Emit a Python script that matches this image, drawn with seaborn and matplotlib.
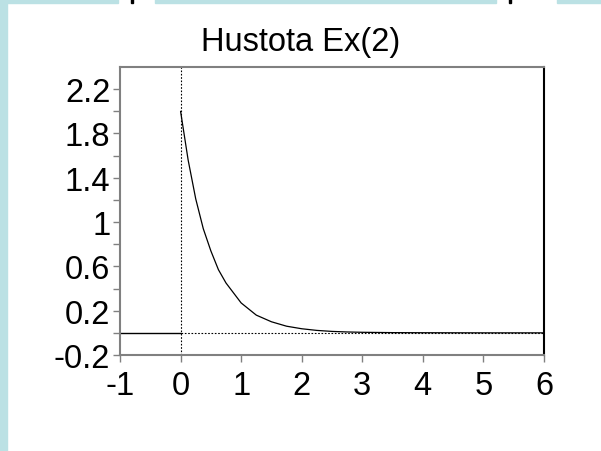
import numpy as np
import pandas as pd
import matplotlib
matplotlib.use("Agg")
import matplotlib.pyplot as plt
from matplotlib.patches import Rectangle
import seaborn as sns

# Data: density of Ex(2)
dens_x = [0, 0.125, 0.25, 0.375, 0.5, 0.625, 0.75, 1.0, 1.25, 1.5, 1.75,
          2.0, 2.25, 2.5, 2.75, 3.0, 3.5, 4.0, 5.0, 6.0]
dens_y = [2.0, 1.56, 1.21, 0.94, 0.74, 0.57, 0.45, 0.27, 0.16, 0.10, 0.06,
          0.037, 0.022, 0.013, 0.008, 0.005, 0.002, 0.001, 0.0, 0.0]
zero_x = [-1, 0]
zero_y = [0, 0]

x_ticks = [-1, 0, 1, 2, 3, 4, 5, 6]
y_ticks = [-0.2, 0.0, 0.2, 0.4, 0.6, 0.8, 1.0, 1.2, 1.4, 1.6, 1.8, 2.0, 2.2]
y_labels = ["-0.2", "", "0.2", "", "0.6", "", "1", "", "1.4", "", "1.8", "", "2.2"]

TITLE = "Hustota Ex(2)"
BLUE = "#bbe1e4"

sns.set_style("white")
plt.rcParams['font.family'] = ['Liberation Sans', 'DejaVu Sans']

fig = plt.figure(figsize=(6.01, 4.52), dpi=100)
ax = fig.add_axes([120 / 601, 1 - 356 / 452, 424 / 601, 288 / 452])

# light blue frame pieces around the slide
fig.patches.append(Rectangle((0, 0), 7 / 601, 1, transform=fig.transFigure,
                             color=BLUE, zorder=0))
for x0, x1 in [(0, 118), (155, 496), (557, 601)]:
    fig.patches.append(Rectangle((x0 / 601, 1 - 4 / 452), (x1 - x0) / 601, 4 / 452,
                                 transform=fig.transFigure, color=BLUE, zorder=0))
for xm in [131, 509]:
    fig.patches.append(Rectangle((xm / 601, 1 - 4 / 452), 2 / 601, 4 / 452,
                                 transform=fig.transFigure, color="black", zorder=1))

df = pd.DataFrame({"x": dens_x, "y": dens_y})
sns.lineplot(data=df, x="x", y="y", ax=ax, color="black", linewidth=0.9)
ax.plot(zero_x, zero_y, color="black", linewidth=1.0)
ax.axhline(0, xmin=1 / 7, xmax=1, color="black", linestyle=(0, (1.5, 1.5)), linewidth=0.8)
ax.axvline(0, color="black", linestyle=(0, (1.5, 1.5)), linewidth=0.8)

ax.set_xlim(-1, 6)
ax.set_ylim(-0.2, 2.4)
ax.set_xticks(x_ticks)
ax.set_xticklabels([str(v) for v in x_ticks])
ax.set_yticks(y_ticks)
ax.set_yticklabels(y_labels)
ax.set_xlabel("")
ax.set_ylabel("")

ax.tick_params(axis="both", direction="out", length=5, width=1, color="#808080",
               labelsize=23.5, labelcolor="black", bottom=True, left=True)
ax.tick_params(axis="x", pad=6)
ax.tick_params(axis="y", pad=2)

for side in ["left", "bottom", "top"]:
    ax.spines[side].set_color("#808080")
    ax.spines[side].set_linewidth(1.5)
ax.spines["right"].set_color("black")
ax.spines["right"].set_linewidth(1.5)

fig.text(0.5, 1 - 42 / 452, TITLE, ha="center", va="center", fontsize=23.5,
         color="black")

fig.savefig("out.png", dpi=100, facecolor="white")
